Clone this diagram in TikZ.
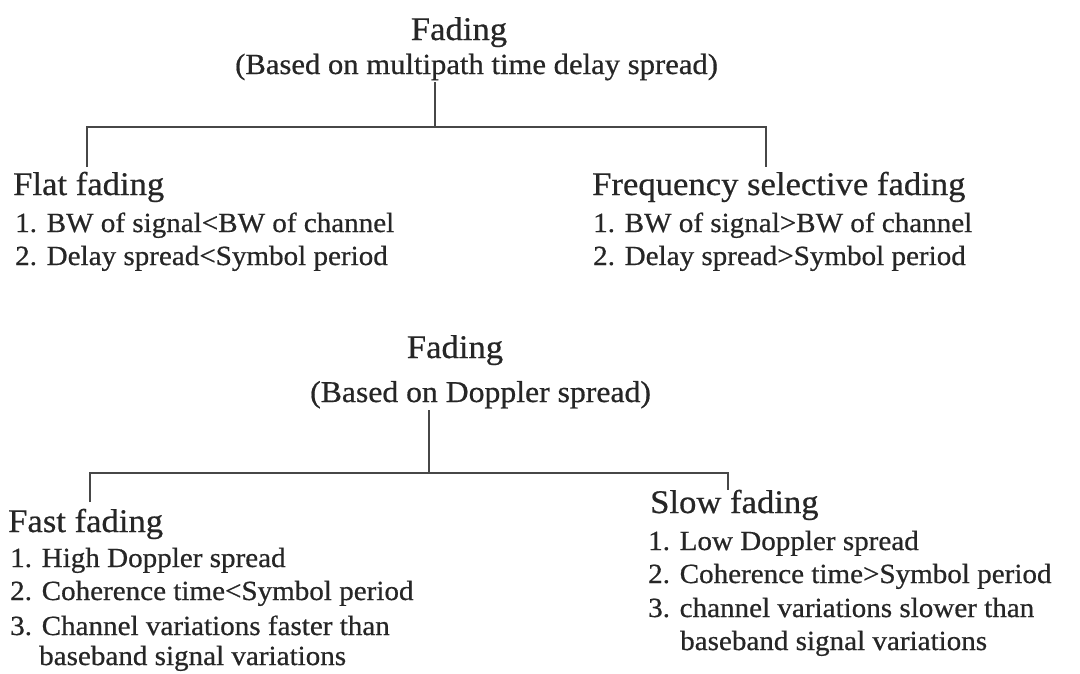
\documentclass[tikz,border=0pt]{standalone}
\usepackage{fontspec}
\setmainfont{Liberation Serif}[FakeStretch=1.05,FakeBold=0.6]
\begin{document}
\begin{tikzpicture}[x=1pt,y=-1pt,
  txt/.style={inner sep=0pt,anchor=base west,text=black!85},
  root/.style={txt,anchor=base,font=\fontsize{33}{36}\selectfont},
  sub/.style={txt,font=\fontsize{29.5}{33}\selectfont},
  head/.style={txt,font=\fontsize{33}{36}\selectfont},
  item/.style={txt,font=\fontsize{27.7}{33}\selectfont},
  conn/.style={draw=black!72,line width=1.5pt}]
\useasboundingbox[fill=white] (0,0) rectangle (1080,673);

% ---- classification by multipath time delay spread ----
\node[root] (fadeA) at (459,40) {Fading};
\node[sub,font=\fontsize{29.2}{33}\selectfont] (subA) at (235,74) {(Based on multipath time delay spread)};

\node[head] (flat) at (13,195) {Flat fading};
\node[item] (flat1) at (15,232) {1. BW of signal<BW of channel};
\node[item] (flat2) at (15,265) {2. Delay spread<Symbol period};

\node[head] (freq) at (592,195) {Frequency selective fading};
\node[item] (freq1) at (593,232) {1. BW of signal>BW of channel};
\node[item] (freq2) at (593,265) {2. Delay spread>Symbol period};

\coordinate (stemA) at (435,82);
\coordinate (barA)  at (435,127);
\coordinate (flatTop) at (87,167);
\coordinate (freqTop) at (766,167);
\draw[conn] (stemA) -- (barA);
\draw[conn] (flatTop) -- (flatTop |- barA) -- (freqTop |- barA) -- (freqTop);

% ---- classification by Doppler spread ----
\node[root] (fadeB) at (455,358) {Fading};
\node[sub,font=\fontsize{30.2}{33}\selectfont] (subB) at (310,402) {(Based on Doppler spread)};

\node[head] (fast) at (8,532) {Fast fading};
\node[item] (fast1) at (10,567) {1. High Doppler spread};
\node[item] (fast2) at (10,600) {2. Coherence time<Symbol period};
\node[item] (fast3) at (10,635) {3. Channel variations faster than};
\node[item] (fast4) at (39,665) {baseband signal variations};

\node[head] (slow) at (650,513) {Slow fading};
\node[item] (slow1) at (648,550) {1. Low Doppler spread};
\node[item] (slow2) at (648,583) {2. Coherence time>Symbol period};
\node[item] (slow3) at (648,617) {3. channel variations slower than};
\node[item] (slow4) at (680,650) {baseband signal variations};

\coordinate (stemB) at (429,410);
\coordinate (barB)  at (429,473);
\coordinate (fastTop) at (90,502);
\coordinate (slowTop) at (728,490);
\draw[conn] (stemB) -- (barB);
\draw[conn] (fastTop) -- (fastTop |- barB) -- (slowTop |- barB) -- (slowTop);
\end{tikzpicture}
\end{document}
